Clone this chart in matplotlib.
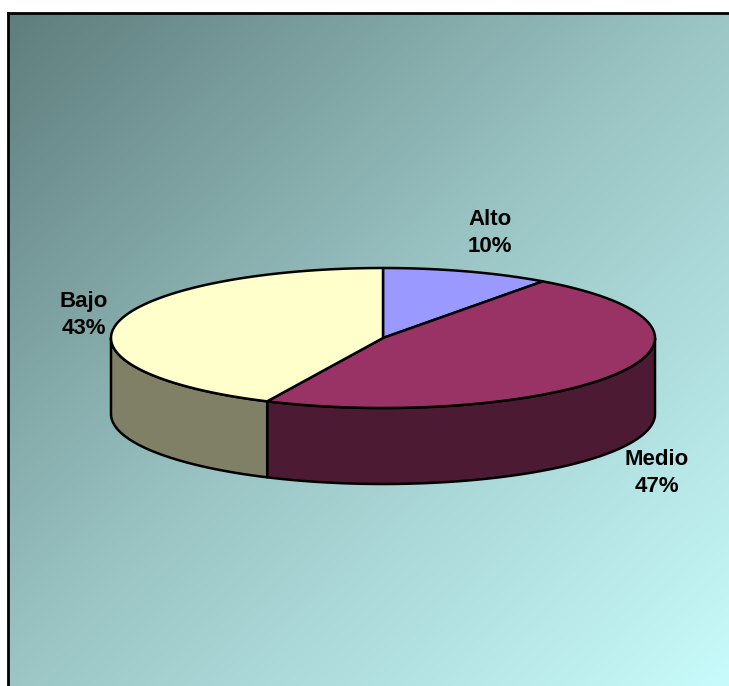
import numpy as np
import matplotlib.pyplot as plt
from matplotlib.patches import Polygon
from matplotlib.colors import LinearSegmentedColormap

# Datos del gráfico
categorias = ['Alto', 'Medio', 'Bajo']
porcentajes = [10, 47, 43]
colores_sup = ['#9999ff', '#993366', '#ffffcc']
colores_lado = ['#4a4a7a', '#4d1a33', '#808066']

W, H = 729, 686
fig = plt.figure(figsize=(W / 100, H / 100), dpi=100)
ax = fig.add_axes([0, 0, 1, 1])
ax.set_xlim(0, W)
ax.set_ylim(H, 0)
ax.axis('off')

# Fondo con degradado diagonal
x0, y0 = 8, 13
gx, gy = np.meshgrid(np.linspace(0, 1, 300), np.linspace(0, 1, 300))
t = (gx + gy) / 2
cmap = LinearSegmentedColormap.from_list(
    'fondo', [(0, '#5f7d7d'), (0.5, '#9cc6c6'), (1, '#c8fbfb')])
ax.imshow(t, cmap=cmap, extent=[x0, W, H, y0], aspect='auto', zorder=0)
ax.plot([x0, W], [y0, y0], color='black', lw=2, zorder=1)
ax.plot([x0, x0], [y0, H], color='black', lw=2, zorder=1)

# Geometría de la torta 3D
cx, cy, rx, ry, prof = 383, 338, 272, 70, 76


def punto(theta, dy=0):
    # theta en grados, sentido horario desde arriba
    r = np.radians(theta)
    return cx + rx * np.sin(r), cy - ry * np.cos(r) + dy


def arco(a, b, dy=0, n=120):
    th = np.linspace(a, b, n)
    xs, ys = punto(th, dy)
    return np.column_stack([xs, ys])


limites = np.concatenate([[0], np.cumsum(porcentajes) / 100 * 360])

# Paredes laterales (solo la mitad frontal, entre 90° y 270°)
for i in range(len(porcentajes)):
    a, b = max(limites[i], 90), min(limites[i + 1], 270)
    if a >= b:
        continue
    arriba = arco(a, b)
    abajo = arco(a, b, prof)[::-1]
    ax.add_patch(Polygon(np.vstack([arriba, abajo]), closed=True,
                         facecolor=colores_lado[i], edgecolor='black',
                         lw=1.8, joinstyle='round', zorder=2))

# Caras superiores
for i in range(len(porcentajes)):
    pts = np.vstack([[cx, cy], arco(limites[i], limites[i + 1])])
    ax.add_patch(Polygon(pts, closed=True, facecolor=colores_sup[i],
                         edgecolor='black', lw=1.8, joinstyle='round',
                         zorder=3))

# Etiquetas
pos_etiquetas = [(490, 233), (657, 473), (84, 315)]
for nombre, p, (lx, ly) in zip(categorias, porcentajes, pos_etiquetas):
    ax.text(lx, ly, f'{nombre}\n{p}%', ha='center', va='center',
            fontsize=16, fontweight='bold', family='Liberation Sans',
            linespacing=1.35, zorder=4)

fig.savefig('out.png', dpi=100)
